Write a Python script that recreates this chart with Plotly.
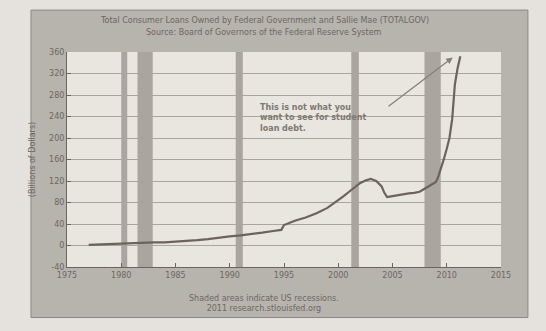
import plotly.graph_objects as go

years = [1977.0, 1978.0, 1979.0, 1980.0, 1981.0, 1982.0, 1983.0, 1984.0, 1985.0, 1986.0,
         1987.0, 1988.0, 1989.0, 1990.0, 1991.0, 1992.0, 1993.0, 1994.0, 1994.75, 1995.0,
         1995.5, 1996.0, 1997.0, 1998.0, 1999.0, 2000.0, 2000.5, 2001.0, 2001.5, 2002.0,
         2002.5, 2003.0, 2003.5, 2004.0, 2004.25, 2004.5, 2005.0, 2005.5, 2006.0, 2006.5,
         2007.0, 2007.5, 2008.0, 2008.5, 2009.0, 2009.25, 2009.5, 2009.75, 2010.0, 2010.25,
         2010.5, 2010.75, 2011.0, 2011.25]
loans = [1, 2, 3, 4, 5, 6, 6, 6, 7, 8,
         10, 12, 15, 17, 19, 21, 24, 27, 29, 38,
         42, 46, 52, 60, 70, 84, 92, 100, 108, 116,
         121, 124, 120, 110, 98, 90, 92, 94, 96, 97,
         98, 100, 106, 112, 118, 130, 145, 162, 180, 200,
         235, 300, 330, 352]

recessions = [(1980.0, 1980.55), (1981.5, 1982.9), (1990.55, 1991.2), (2001.2, 2001.9), (2007.95, 2009.45)]
x_ticks = [1975, 1980, 1985, 1990, 1995, 2000, 2005, 2010, 2015]
y_ticks = [-40, 0, 40, 80, 120, 160, 200, 240, 280, 320, 360]
y_labels = ["-40", "0", "40", "80", "120", "160", "200", "240", "280", "320", "360"]

text_c = "#6c6861"
fnt = "DejaVu Sans"

fig = go.Figure()
fig.add_trace(go.Scatter(x=years, y=loans, mode="lines", line=dict(color="#6a645c", width=2.2),
                         showlegend=False, hoverinfo="skip"))

shapes = [dict(type="rect", xref="paper", yref="paper", x0=-0.083, x1=1.062, y0=-0.235, y1=1.195,
               fillcolor="#b7b3ad", line=dict(color="#8d8982", width=1), layer="below"),
          dict(type="rect", xref="paper", yref="paper", x0=0, x1=1, y0=0, y1=1,
               fillcolor="#e9e5df", line=dict(width=0), layer="below")]
for a, b in recessions:
    shapes.append(dict(type="rect", xref="x", yref="paper", x0=a, x1=b, y0=0, y1=1,
                       fillcolor="#aaa59e", line=dict(width=0), layer="between"))
fig.update_layout(shapes=shapes)

fig.update_layout(
    width=546, height=331,
    margin=dict(l=67, r=45, t=52, b=64),
    paper_bgcolor="#e5e2de",
    plot_bgcolor="#e9e5df",
    font=dict(family=fnt, color=text_c, size=8),
    xaxis=dict(range=[1975, 2015], tickvals=x_ticks, ticks="inside", ticklen=4, tickcolor="#6a665f",
               showgrid=False, showline=True, linecolor="#6a665f", linewidth=1, zeroline=False,
               tickfont=dict(size=8, color=text_c)),
    yaxis=dict(range=[-40, 360], tickvals=y_ticks, ticktext=y_labels, ticks="inside", ticklen=4,
               tickcolor="#6a665f", showgrid=True, gridcolor="#a9a59f", gridwidth=1, showline=True,
               linecolor="#6a665f", linewidth=1, zeroline=False, tickfont=dict(size=8, color=text_c),
               title=dict(text="(Billions of Dollars)", font=dict(size=8, color=text_c), standoff=12)),
    annotations=[
        dict(text="Total Consumer Loans Owned by Federal Government and Sallie Mae (TOTALGOV)",
             xref="paper", yref="paper", x=0.455, y=1.175, xanchor="center", yanchor="top",
             showarrow=False, font=dict(size=8, color=text_c)),
        dict(text="Source: Board of Governors of the Federal Reserve System",
             xref="paper", yref="paper", x=0.455, y=1.12, xanchor="center", yanchor="top",
             showarrow=False, font=dict(size=8, color=text_c)),
        dict(text="Shaded areas indicate US recessions.<br>2011 research.stlouisfed.org",
             xref="paper", yref="paper", x=0.455, y=-0.115, xanchor="center", yanchor="top",
             showarrow=False, font=dict(size=8, color=text_c)),
        dict(text="<b>This is not what you<br>want to see for student<br>loan debt.</b>",
             xref="x", yref="y", x=1992.6, y=268, xanchor="left", yanchor="top", align="left",
             showarrow=False, font=dict(size=8, color="#7d7972")),
        dict(text="", xref="x", yref="y", x=2010.55, y=350, ax=2004.5, ay=257, axref="x", ayref="y",
             showarrow=True, arrowhead=2, arrowsize=1, arrowwidth=1.3, arrowcolor="#85817a"),
    ],
)

fig.write_html("out.html")
